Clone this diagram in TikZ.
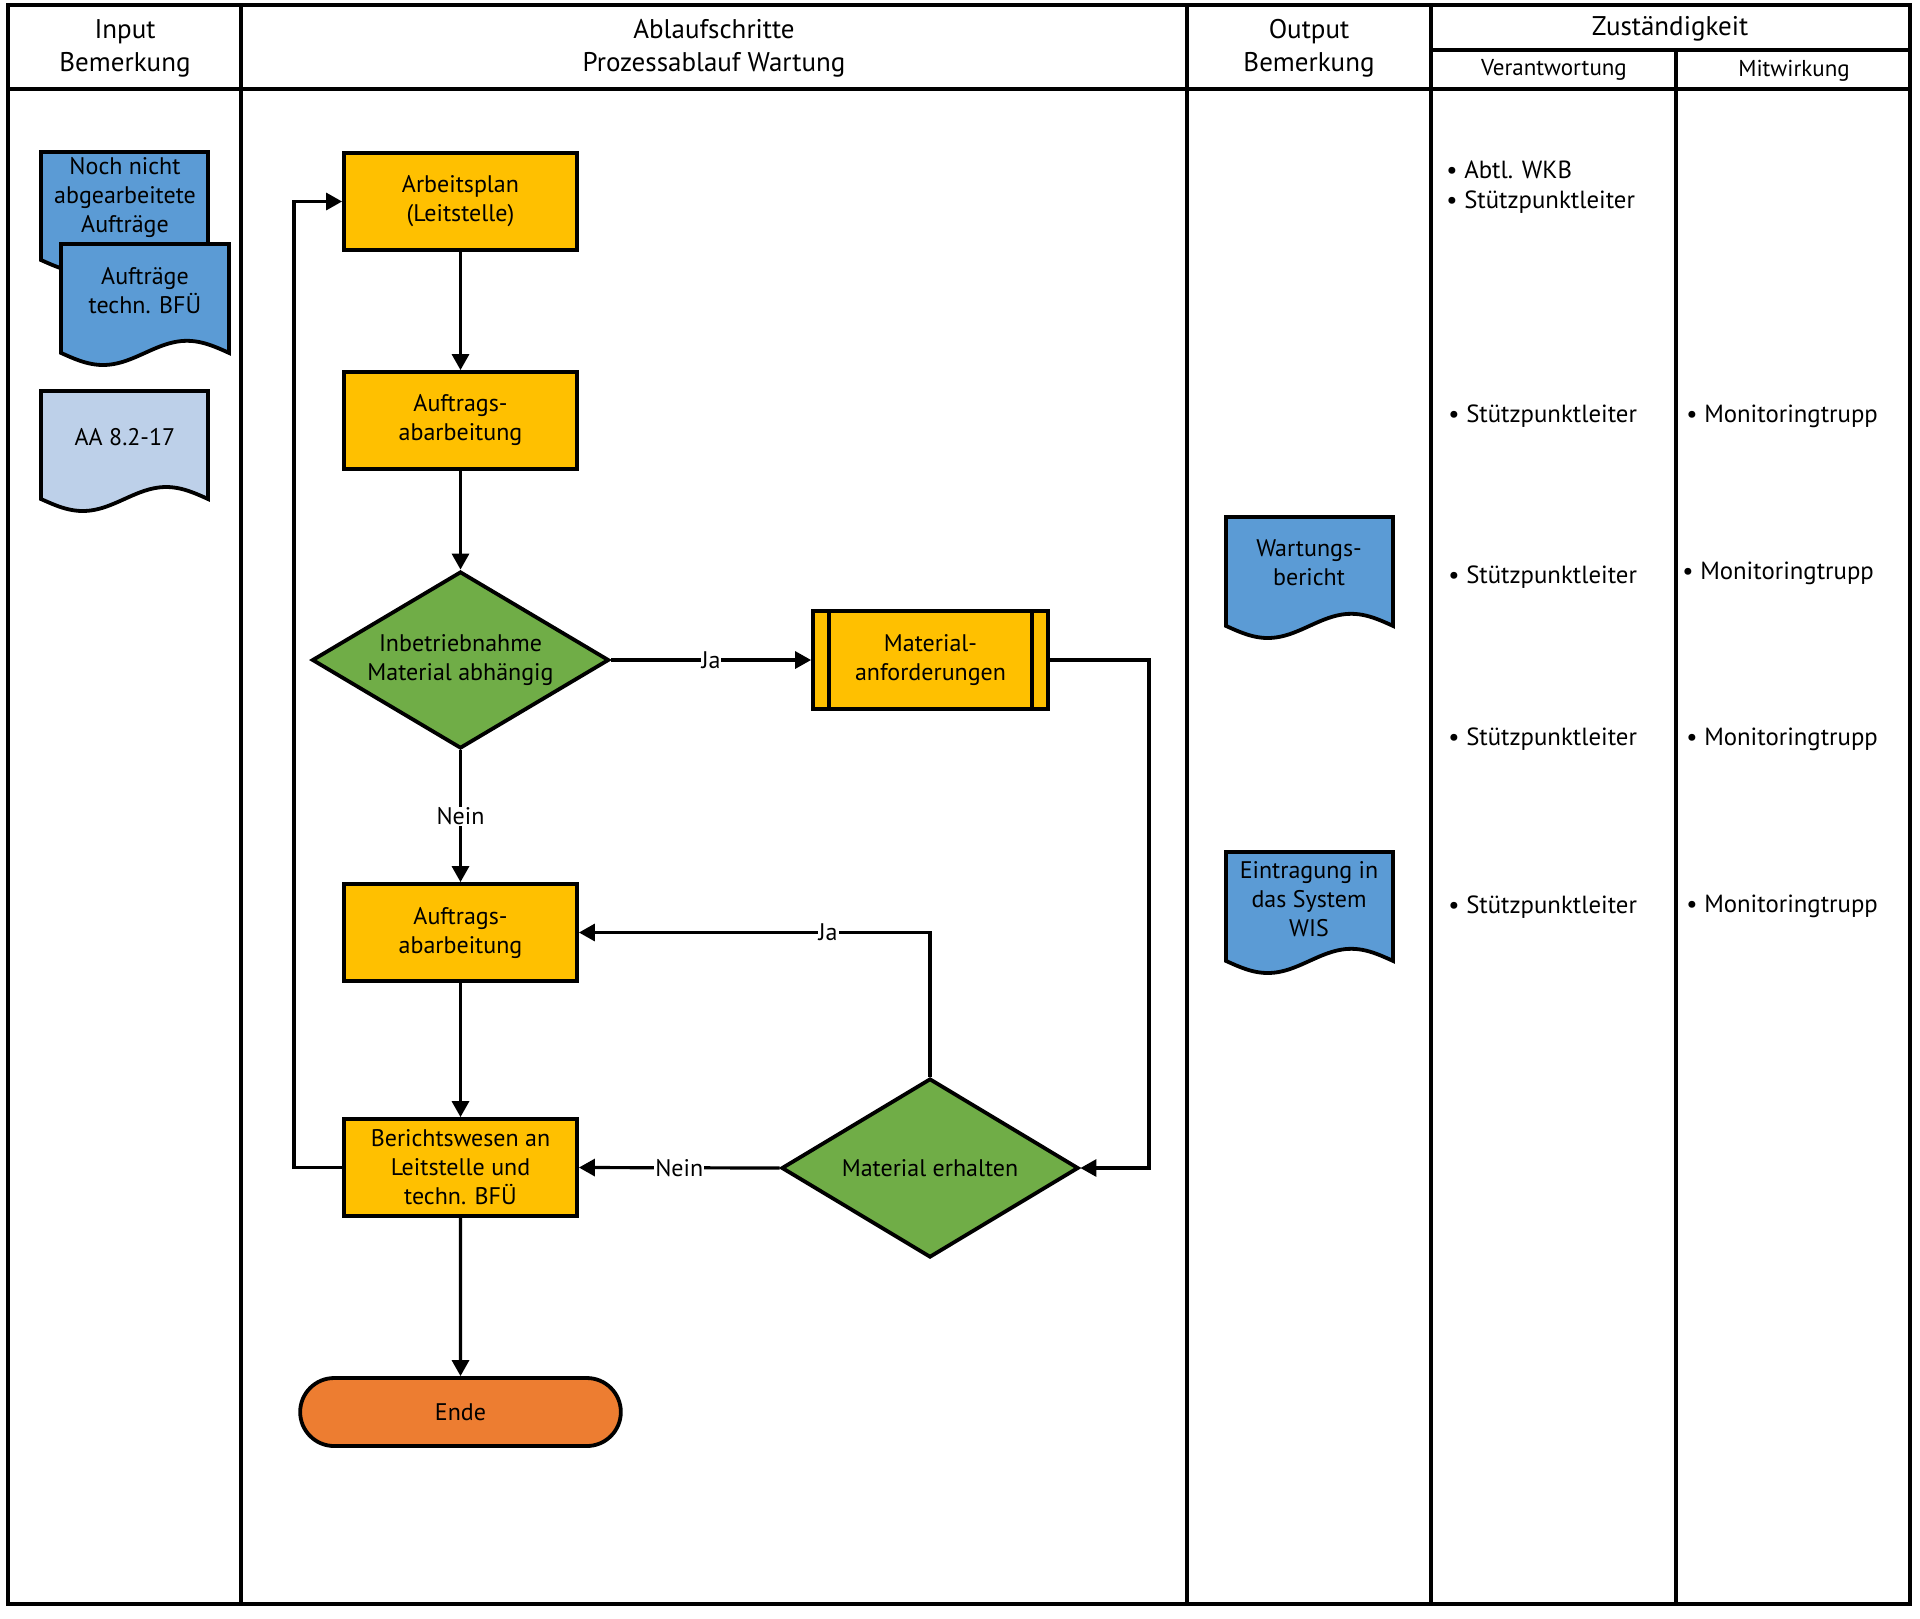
\documentclass[tikz,border=0pt]{standalone}
\usepackage{fontspec}
\setmainfont{PT Sans}
\usetikzlibrary{shapes.geometric,shapes.misc,arrows.meta,calc}
\definecolor{boxor}{HTML}{FFC000}
\definecolor{decgreen}{HTML}{70AD47}
\definecolor{endor}{HTML}{ED7D31}
\definecolor{docblue}{HTML}{5B9BD5}
\definecolor{doclight}{HTML}{BDD0E9}
\newcommand\docshape[5]{%
  \filldraw[line width=1.9pt, fill=#5, line join=miter] (#1,#2) -- ({#1+#3},#2) -- ({#1+#3},{#2+0.9*#4})
    -- plot[domain=1:0, samples=50, smooth] ({#1+\x*#3},{#2+0.9*#4+0.1*#4*sin(360*\x)}) -- cycle;}
\begin{document}
\begin{tikzpicture}[x=0.5pt,y=-0.5pt,
  every node/.style={font=\fontsize{12}{14.5}\selectfont},
  hdr/.style={font=\fontsize{13.5}{16.5}\selectfont, align=center},
  subhdr/.style={font=\fontsize{11.5}{14}\selectfont},
  tline/.style={line width=2.1pt},
  proc/.style={draw, line width=1.9pt, fill=boxor, minimum width=116.5pt, minimum height=48.5pt, align=center, inner sep=2pt},
  dec/.style={diamond, draw, line width=1.9pt, fill=decgreen, minimum width=148.5pt, minimum height=88.5pt, aspect=1.69, inner sep=0pt, align=center},
  term/.style={rounded rectangle, draw, line width=1.9pt, fill=endor, minimum width=167pt, minimum height=34pt},
  conn/.style={line width=1.6pt, -{Triangle[length=8pt,width=8.5pt]}},
  lbl/.style={fill=white, inner sep=0.5pt},
  doctext/.style={align=center, inner sep=0pt},
  item/.style={anchor=west, align=left, inner sep=0pt, font=\fontsize{12.4}{14.8}\selectfont}]
\useasboundingbox (0,0) rectangle (1920,1618);
\fill[white] (0,0) rectangle (1920,1618);

% table frame
\draw[tline] (8,5) rectangle (1910,1604);
\draw[tline] (8,89) -- (1910,89);
\draw[tline] (1431,50) -- (1910,50);
\draw[tline] (241,5) -- (241,1604);
\draw[tline] (1187,5) -- (1187,1604);
\draw[tline] (1431,5) -- (1431,1604);
\draw[tline] (1676,50) -- (1676,1604);

% headers
\node[hdr] (h1) at (125,48.5) {Input\\Bemerkung};
\node[hdr] (h2) at (714,48.5) {Ablaufschritte\\Prozessablauf Wartung};
\node[hdr] (h3) at (1309,48.5) {Output\\Bemerkung};
\node[hdr] (h4) at (1670,29) {Zuständigkeit};
\node[subhdr] (h5) at (1554,70) {Verantwortung};
\node[subhdr] (h6) at (1794,71) {Mitwirkung};

% input documents
\docshape{41}{152}{167}{120}{docblue}
\node[doctext] (d1) at (125,198) {Noch nicht\\abgearbeitete\\Aufträge};
\docshape{61}{244}{168}{121}{docblue}
\node[doctext] (d2) at (145,291) {Aufträge\\techn. BFÜ};
\docshape{41}{391}{167}{120}{doclight}
\node[doctext] (d3) at (125,437) {AA 8.2-17};

% output documents
\docshape{1226}{517}{167}{121}{docblue}
\node[doctext] (d4) at (1309,563) {Wartungs-\\bericht};
\docshape{1226}{852}{167}{121}{docblue}
\node[doctext] (d5) at (1309,899) {Eintragung in\\das System\\WIS};

% process nodes
\node[proc] (ap) at (460.5,201.5) {Arbeitsplan\\(Leitstelle)};
\node[proc] (auf1) at (460.5,420.5) {Auftrags-\\abarbeitung};
\node[dec] (ib) at (460.5,660) {Inbetriebnahme\\Material abhängig};
\node[proc, minimum width=117.5pt, minimum height=49pt] (ma) at (930.5,660) {Material-\\anforderungen};
\draw[line width=1.9pt] ([xshift=9pt]ma.north west) -- ([xshift=9pt]ma.south west);
\draw[line width=1.9pt] ([xshift=-9pt]ma.north east) -- ([xshift=-9pt]ma.south east);
\node[proc] (auf2) at (460.5,932.5) {Auftrags-\\abarbeitung};
\node[proc] (bw) at (460.5,1167.5) {Berichtswesen an\\Leitstelle und\\techn. BFÜ};
\node[dec, minimum height=89.5pt] (me) at (930,1168) {Material erhalten};
\node[term] (ende) at (460.5,1412) {Ende};

% connectors
\coordinate (c1) at (1149,660);
\coordinate (c2) at (294,1167.5);
\draw[conn] (ap) -- (auf1);
\draw[conn] (auf1) -- (ib);
\draw[conn] (ib) -- node[lbl]{Ja} (ma);
\draw[conn] (ib) -- node[lbl]{Nein} (auf2);
\draw[conn] (ma.east) -- (c1) |- (me.east);
\draw[conn] (me.north) |- node[lbl, pos=0.645]{Ja} (auf2.east);
\draw[conn] (me.west) -- node[lbl]{Nein} (bw.east);
\draw[conn] (auf2) -- (bw);
\draw[conn] (bw.west) -- (c2) |- (ap.west);
\draw[conn] (bw) -- (ende);

% responsibilities
\node[item] (v1) at (1446,187) {• Abtl. WKB\\• Stützpunktleiter};
\node[item] (v2) at (1448,416) {• Stützpunktleiter};
\node[item] (v3) at (1448,577) {• Stützpunktleiter};
\node[item] (v4) at (1448,739) {• Stützpunktleiter};
\node[item] (v5) at (1448,907) {• Stützpunktleiter};
\node[item] (m1) at (1686,416) {• Monitoringtrupp};
\node[item] (m2) at (1682,573) {• Monitoringtrupp};
\node[item] (m3) at (1686,739) {• Monitoringtrupp};
\node[item] (m4) at (1686,906) {• Monitoringtrupp};
\end{tikzpicture}
\end{document}
